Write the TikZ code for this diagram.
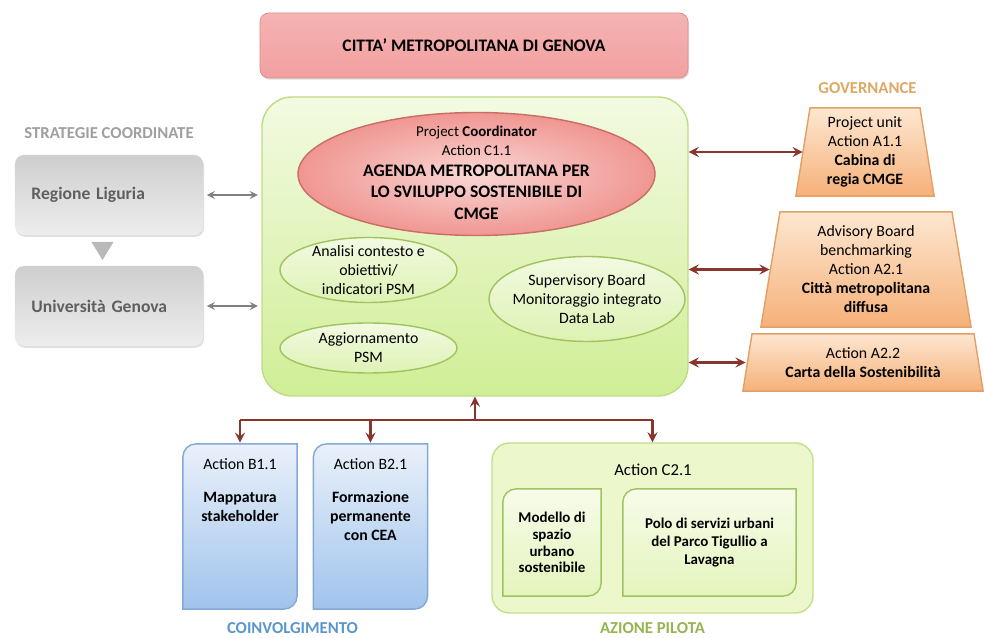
\documentclass[tikz,border=0pt]{standalone}
\usepackage{fontspec}
\setmainfont{Carlito}
\usepackage{tikz}
\usetikzlibrary{calc,shadows}

\definecolor{arrowred}{RGB}{138,52,46}
\definecolor{titletop}{RGB}{251,220,220}
\definecolor{titlebot}{RGB}{242,160,160}
\definecolor{titleline}{RGB}{214,140,140}
\definecolor{maintop}{RGB}{243,250,226}
\definecolor{mainbot}{RGB}{208,238,150}
\definecolor{mainline}{RGB}{190,220,130}
\definecolor{ellred}{RGB}{240,150,146}
\definecolor{ellredin}{RGB}{250,215,212}
\definecolor{ellredline}{RGB}{200,110,100}
\definecolor{ellgreen}{RGB}{222,242,180}
\definecolor{ellgreenline}{RGB}{160,195,95}
\definecolor{govtop}{RGB}{253,232,210}
\definecolor{govbot}{RGB}{246,176,120}
\definecolor{govline}{RGB}{226,160,100}
\definecolor{bluetop}{RGB}{234,241,250}
\definecolor{bluebot}{RGB}{160,195,236}
\definecolor{blueline}{RGB}{130,168,215}
\definecolor{pilotfill}{RGB}{236,247,204}
\definecolor{pilotline}{RGB}{196,222,140}
\definecolor{greytext}{RGB}{95,95,95}
\definecolor{govlabel}{RGB}{222,168,100}
\definecolor{coinvlabel}{RGB}{90,150,205}
\definecolor{pilotlabel}{RGB}{150,180,80}

\newcommand{\ftxt}{\fontsize{9}{10.8}\selectfont}
\newcommand{\bfbig}[1]{{\bfseries\fontsize{10}{11.5}\selectfont #1}}
\newcommand{\smalltxt}[1]{{\fontsize{8.5}{10.5}\selectfont #1}}

\tikzset{
	txt/.style={font=\ftxt, align=center, inner sep=0pt},
	heading/.style={font=\bfseries\fontsize{9.5}{11}\selectfont},
	redline/.style={draw=arrowred, line width=1.5pt},
	greyarrow/.style={draw=gray, line width=1pt, stealth-stealth, shorten <=2pt, shorten >=2pt},
	titlebox/.style={rounded corners=5pt, top color=titlebot!80!white, middle color=titletop, bottom color=titlebot, draw=titleline, minimum width=8.56cm, minimum height=1.3cm, font=\bfseries\fontsize{10}{12}\selectfont, drop shadow={opacity=0.25, shadow xshift=0.6pt, shadow yshift=-1pt}},
	mainbox/.style={rounded corners=0.6cm, top color=maintop, bottom color=mainbot, draw=mainline, line width=0.8pt, minimum width=8.52cm, minimum height=5.98cm},
	greybox/.style={rounded corners=5pt, top color=gray!38, bottom color=gray!14, minimum width=3.76cm, minimum height=1.6cm, text width=3.1cm, align=left, text=greytext, font=\bfseries\fontsize{10}{12}\selectfont, drop shadow={opacity=0.25, shadow xshift=0.6pt, shadow yshift=-1pt}},
	govbox/.style={inner sep=0pt, fill=white, font=\ftxt, align=center, path picture={
		\shade[top color=govtop, bottom color=govbot, draw=govline, line width=0.8pt]
			($(path picture bounding box.north west)+(#1,-0.5pt)$) -- ($(path picture bounding box.north east)+(-#1,-0.5pt)$) -- ($(path picture bounding box.south east)+(-0.5pt,0.5pt)$) -- ($(path picture bounding box.south west)+(0.5pt,0.5pt)$) -- cycle;}},
	diagbox/.style n args={3}{inner sep=0pt, path picture={
		\shade[top color=#1, bottom color=#2, draw=#3, line width=0.8pt]
			($(path picture bounding box.north east)+(-0.5pt,-0.5pt)$) -- ($(path picture bounding box.south east)+(-0.5pt,8pt)$) arc[start angle=0, end angle=-90, radius=7.5pt] -- ($(path picture bounding box.south west)+(0.5pt,0.5pt)$) -- ($(path picture bounding box.north west)+(0.5pt,-8pt)$) arc[start angle=180, end angle=90, radius=7.5pt] -- cycle;}},
	pilotbox/.style={rounded corners=10pt, fill=pilotfill, draw=pilotline, line width=0.8pt, minimum width=6.42cm, minimum height=3.4cm},
}

\begin{document}
\begin{tikzpicture}
			%%%%% START %%%%%
			\useasboundingbox (0,0) rectangle (19.68,12.76);
			
			\node[titlebox] (cmge) at (9.48,11.85) {CITTA' METROPOLITANA DI GENOVA};
			
			% agenda metropolitana
			\node[mainbox] (agenda) at (9.5,7.83) {};
			\shade[inner color=ellredin, outer color=ellred, draw=ellredline, line width=0.8pt] (9.53,9.28) ellipse (3.57 and 1.23);
			\shade[top color=ellgreen!40!white, bottom color=ellgreen, draw=ellgreenline, line width=0.8pt] (7.37,7.36) ellipse (1.77 and 0.65);
			\shade[top color=ellgreen!40!white, bottom color=ellgreen, draw=ellgreenline, line width=0.8pt] (7.37,5.8) ellipse (1.77 and 0.5);
			\shade[top color=ellgreen!40!white, bottom color=ellgreen, draw=ellgreenline, line width=0.8pt] (11.74,6.78) ellipse (1.96 and 0.85);
			\node[txt] (coord) at (9.53,9.3) {\smalltxt{Project \textbf{Coordinator}}\\ \smalltxt{Action C1.1}\\[1pt] \bfbig{AGENDA METROPOLITANA PER}\\[1pt] \bfbig{LO SVILUPPO SOSTENIBILE DI}\\[2pt] \bfbig{CMGE}};
			\node[txt] (analisi) at (7.37,7.36) {Analisi contesto e\\ obiettivi/\\ indicatori PSM};
			\node[txt] (aggiorn) at (7.37,5.8) {Aggiornamento\\ PSM};
			\node[txt] (superv) at (11.74,6.78) {Supervisory Board\\ Monitoraggio integrato\\ Data Lab};
			
			% strategie coordinate
			\node[heading, text=gray!75] (strategie) at (2.18,10.1) {STRATEGIE COORDINATE};
			\node[greybox] (regione) at (2.18,8.86) {Regione Liguria};
			\node[greybox] (unige) at (2.18,6.64) {Università Genova};
			\fill[gray!55] (1.83,7.92) -- (2.27,7.92) -- (2.05,7.56) -- cycle;
			\draw[greyarrow] (regione.east) -- (regione.east -| agenda.west);
			\draw[greyarrow] (unige.east) -- (unige.east -| agenda.west);
			
			% governance
			\node[heading, text=govlabel] (govern) at (17.35,11.0) {GOVERNANCE};
			\node[govbox=0.3cm, minimum width=2.8cm, minimum height=1.8cm] (cabina) at (17.3,9.72) {Project unit\\ Action A1.1\\ \textbf{Cabina di}\\ \textbf{regia CMGE}};
			\node[govbox=0.4cm, minimum width=4.24cm, minimum height=2.34cm] (advisory) at (17.32,7.37) {Advisory Board\\ benchmarking\\ Action A2.1\\ \textbf{Città metropolitana}\\ \textbf{diffusa}};
			\node[govbox=0.2cm, minimum width=4.84cm, minimum height=1.18cm] (carta) at (17.26,5.51) {Action A2.2\\ \textbf{Carta della Sostenibilità}};
			\draw[redline, stealth-stealth] (agenda.east |- cabina.west) -- ([xshift=0.16cm]cabina.west);
			\draw[redline, stealth-stealth] (agenda.east |- advisory.west) -- ([xshift=0.2cm]advisory.west);
			\draw[redline, stealth-stealth] (agenda.east |- carta.west) -- ([xshift=0.08cm]carta.west);
			
			% coinvolgimento
			\node[diagbox={bluetop}{bluebot}{blueline}, fill=white, minimum width=2.32cm, minimum height=3.34cm] (b11) at (4.8,2.23) {};
			\node[diagbox={bluetop}{bluebot}{blueline}, fill=white, minimum width=2.32cm, minimum height=3.34cm] (b21) at (7.41,2.23) {};
			\node[txt, anchor=north] (b11t) at ($(b11.north)+(0,-0.32)$) {Action B1.1\\[8pt] \textbf{Mappatura}\\ \textbf{stakeholder}};
			\node[txt, anchor=north] (b21t) at ($(b21.north)+(0,-0.32)$) {Action B2.1\\[8pt] \textbf{Formazione}\\ \textbf{permanente}\\ \textbf{con CEA}};
			\node[heading, text=coinvlabel] (coinv) at (5.85,0.2) {COINVOLGIMENTO};
			
			% azione pilota
			\node[pilotbox] (c21) at (13.05,2.2) {};
			\node[txt, font=\fontsize{9.5}{11}\selectfont] (c21t) at (13.06,3.36) {Action C2.1};
			\node[diagbox={pilotfill!40!white}{pilotfill!70!mainbot}{ellgreenline}, fill=pilotfill, minimum width=2.0cm, minimum height=2.18cm, align=center, font=\bfseries\fontsize{8.5}{9.6}\selectfont] (modello) at (11.04,1.91) {Modello di\\ spazio\\ urbano\\ sostenibile};
			\node[diagbox={pilotfill!40!white}{pilotfill!70!mainbot}{ellgreenline}, fill=pilotfill, minimum width=3.5cm, minimum height=2.18cm, align=center, font=\bfseries\fontsize{8.5}{10}\selectfont] (polo) at (14.19,1.91) {Polo di servizi urbani\\ del Parco Tigullio a\\ Lavagna};
			\node[heading, text=pilotlabel] (pilota) at (13.05,0.2) {AZIONE PILOTA};
			
			% collegamenti in basso
			\coordinate (bus) at (9.5,4.36);
			\draw[redline] (b11.north |- bus) -- (c21.north |- bus);
			\draw[redline, -stealth] (bus) -- (agenda.south);
			\draw[redline, -stealth] (b11.north |- bus) -- (b11.north);
			\draw[redline, -stealth] (b21.north |- bus) -- (b21.north);
			\draw[redline, -stealth] (c21.north |- bus) -- (c21.north);
			%%%%% END %%%%%
		\end{tikzpicture}
\end{document}
